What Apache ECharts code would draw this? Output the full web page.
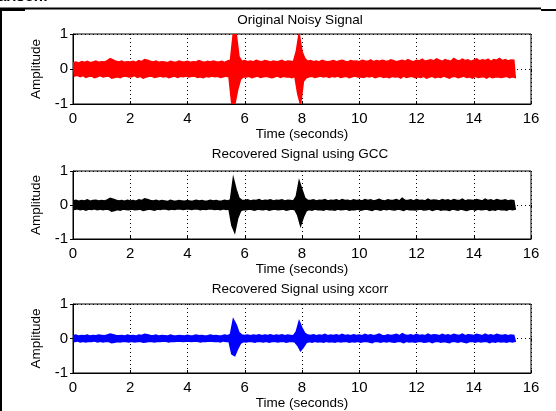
<!DOCTYPE html>
<html><head><meta charset="utf-8">
<script src="https://cdn.jsdelivr.net/npm/echarts@6/dist/echarts.min.js"></script>
<style>html,body{margin:0;padding:0;background:#fff}#c{width:556px;height:411px}</style>
</head><body><div id="c"></div><script>
const xTicks = [0, 2, 4, 6, 8, 10, 12, 14, 16];
const yTicks = [-1, 0, 1];
const titles = ['Original Noisy Signal', 'Recovered Signal using GCC', 'Recovered Signal using xcorr'];
const xLabel = 'Time (seconds)';
const yLabel = 'Amplitude';
const colors = ['#ff0000', '#000000', '#0000ff'];
const sampleStep = 0.1; // envelope read every 0.1 s, from 0 to 15.4 s

const noisyHi = [
.18,.2,.17,.21,.19,.22,.18,.2,.23,.19,
.21,.2,.24,.3,.26,.22,.2,.23,.19,.21,
.2,.22,.19,.24,.21,.27,.25,.22,.2,.23,
.19,.21,.2,.18,.22,.2,.19,.23,.21,.2,
.22,.19,.21,.2,.24,.21,.19,.22,.2,.23,
.21,.2,.22,.19,.23,.25,1.2,1.1,.35,.22,
.24,.21,.23,.2,.25,.22,.21,.24,.22,.2,
.23,.21,.22,.25,.2,.23,.22,.21,.5,1.1,
.5,.3,.22,.24,.21,.23,.2,.25,.22,.21,
.22,.24,.21,.23,.25,.22,.2,.24,.22,.23,
.21,.25,.23,.22,.26,.21,.24,.22,.25,.23,
.22,.26,.24,.21,.23,.25,.22,.27,.23,.21,
.25,.23,.28,.22,.24,.26,.23,.29,.25,.22,
.27,.24,.22,.3,.25,.23,.28,.24,.26,.22,
.25,.29,.23,.26,.24,.28,.22,.27,.25,.3,
.24,.27,.23,.26,.25];
const noisyLo = [
-.2,-.18,-.22,-.19,-.24,-.21,-.2,-.25,-.22,-.19,
-.23,-.21,-.2,-.26,-.24,-.22,-.25,-.21,-.2,-.23,
-.22,-.19,-.24,-.21,-.26,-.23,-.21,-.2,-.24,-.22,
-.2,-.23,-.21,-.25,-.22,-.2,-.24,-.21,-.22,-.2,
-.23,-.21,-.2,-.24,-.22,-.25,-.21,-.23,-.2,-.22,
-.21,-.24,-.22,-.2,-.23,-1.2,-1.2,-.6,-.3,-.22,
-.23,-.21,-.25,-.22,-.2,-.24,-.22,-.21,-.23,-.25,
-.22,-.2,-.24,-.21,-.23,-.22,-.25,-.21,-.7,-1.1,
-.35,-.25,-.22,-.21,-.24,-.22,-.2,-.23,-.21,-.24,
-.21,-.23,-.2,-.24,-.22,-.21,-.25,-.22,-.2,-.23,
-.22,-.24,-.21,-.23,-.2,-.25,-.22,-.21,-.24,-.22,
-.25,-.21,-.23,-.22,-.26,-.2,-.24,-.22,-.21,-.25,
-.22,-.24,-.21,-.26,-.23,-.21,-.25,-.22,-.24,-.2,
-.23,-.26,-.22,-.21,-.25,-.23,-.2,-.24,-.22,-.26,
-.21,-.24,-.23,-.22,-.26,-.21,-.25,-.23,-.22,-.24,
-.23,-.21,-.25,-.22,-.24];
const gccHi = [
.12,.14,.11,.13,.12,.15,.11,.13,.14,.12,
.13,.12,.15,.2,.17,.14,.12,.13,.11,.14,
.12,.13,.11,.15,.13,.18,.16,.13,.12,.14,
.11,.13,.12,.1,.14,.12,.11,.13,.12,.11,
.13,.11,.12,.14,.12,.13,.11,.12,.14,.12,
.13,.11,.12,.14,.12,.15,.78,.45,.2,.14,
.13,.15,.12,.14,.13,.16,.12,.14,.13,.15,
.12,.14,.13,.15,.12,.14,.13,.12,.25,.7,
.45,.2,.14,.13,.15,.12,.14,.13,.16,.12,
.14,.13,.15,.12,.16,.13,.14,.12,.15,.13,
.14,.12,.16,.13,.15,.12,.14,.17,.13,.12,
.15,.13,.14,.16,.12,.2,.14,.13,.15,.12,
.16,.13,.14,.12,.17,.13,.15,.14,.12,.16,
.13,.15,.12,.16,.14,.13,.17,.12,.15,.14,
.13,.16,.14,.12,.17,.13,.15,.12,.16,.14,
.13,.15,.12,.14,.13];
const gccLo = [
-.13,-.11,-.14,-.12,-.15,-.12,-.13,-.11,-.14,-.12,
-.14,-.12,-.13,-.18,-.16,-.13,-.15,-.12,-.13,-.14,
-.12,-.14,-.13,-.12,-.16,-.14,-.12,-.13,-.15,-.12,
-.13,-.11,-.12,-.14,-.12,-.13,-.11,-.12,-.13,-.12,
-.12,-.13,-.11,-.12,-.14,-.12,-.13,-.11,-.12,-.13,
-.12,-.14,-.11,-.13,-.12,-.6,-.8,-.4,-.18,-.13,
-.14,-.12,-.13,-.15,-.12,-.13,-.14,-.12,-.15,-.13,
-.12,-.14,-.13,-.12,-.15,-.13,-.12,-.14,-.3,-.6,
-.35,-.17,-.13,-.15,-.12,-.14,-.13,-.15,-.12,-.14,
-.13,-.15,-.12,-.14,-.13,-.12,-.15,-.13,-.14,-.12,
-.15,-.13,-.12,-.14,-.16,-.12,-.13,-.15,-.12,-.14,
-.12,-.14,-.15,-.12,-.13,-.16,-.12,-.14,-.13,-.15,
-.13,-.12,-.15,-.14,-.12,-.16,-.13,-.12,-.15,-.13,
-.14,-.16,-.12,-.13,-.15,-.12,-.14,-.16,-.13,-.12,
-.15,-.12,-.14,-.13,-.12,-.16,-.13,-.15,-.12,-.14,
-.13,-.15,-.12,-.14,-.12];
const xcorrHi = [
.08,.1,.07,.09,.08,.1,.07,.09,.08,.1,
.09,.08,.1,.13,.11,.09,.08,.09,.07,.1,
.08,.09,.07,.1,.09,.12,.11,.09,.08,.1,
.07,.09,.08,.07,.1,.08,.07,.09,.08,.07,
.09,.07,.08,.1,.08,.09,.07,.08,.1,.08,
.09,.07,.08,.1,.08,.12,.55,.4,.17,.1,
.09,.1,.08,.1,.09,.11,.08,.1,.09,.11,
.08,.1,.09,.11,.08,.1,.09,.08,.2,.5,
.3,.15,.1,.09,.11,.08,.1,.09,.12,.08,
.1,.09,.11,.08,.12,.09,.1,.08,.11,.09,
.1,.08,.12,.09,.11,.08,.1,.13,.09,.08,
.11,.09,.1,.12,.08,.14,.1,.09,.11,.08,
.12,.09,.1,.08,.13,.09,.11,.1,.08,.12,
.09,.11,.08,.12,.1,.09,.13,.08,.11,.1,
.09,.12,.1,.08,.13,.09,.11,.08,.12,.1,
.09,.11,.08,.1,.09];
const xcorrLo = [
-.09,-.07,-.1,-.08,-.1,-.08,-.09,-.07,-.1,-.08,
-.1,-.08,-.09,-.12,-.11,-.09,-.1,-.08,-.09,-.1,
-.08,-.1,-.09,-.08,-.11,-.1,-.08,-.09,-.1,-.08,
-.09,-.07,-.08,-.1,-.08,-.09,-.07,-.08,-.09,-.08,
-.08,-.09,-.07,-.08,-.1,-.08,-.09,-.07,-.08,-.09,
-.08,-.1,-.07,-.09,-.08,-.45,-.5,-.3,-.14,-.09,
-.1,-.08,-.09,-.11,-.08,-.09,-.1,-.08,-.11,-.09,
-.08,-.1,-.09,-.08,-.11,-.09,-.08,-.1,-.2,-.35,
-.25,-.12,-.09,-.11,-.08,-.1,-.09,-.11,-.08,-.1,
-.09,-.11,-.08,-.1,-.09,-.08,-.11,-.09,-.1,-.08,
-.11,-.09,-.08,-.1,-.12,-.08,-.09,-.11,-.08,-.1,
-.08,-.1,-.11,-.08,-.09,-.12,-.08,-.1,-.09,-.11,
-.09,-.08,-.11,-.1,-.08,-.12,-.09,-.08,-.11,-.09,
-.1,-.12,-.08,-.09,-.11,-.08,-.1,-.12,-.09,-.08,
-.11,-.08,-.1,-.09,-.08,-.12,-.09,-.11,-.08,-.1,
-.09,-.11,-.08,-.1,-.08];

const signals = [[noisyHi, noisyLo], [gccHi, gccLo], [xcorrHi, xcorrLo]];

function rows(hi, lo) {
  const r = [];
  for (let i = 0; i < hi.length; i++) {
    r.push([Math.round(i * sampleStep * 100) / 100, hi[i], lo[i]]);
  }
  return r;
}
const clampY = v => Math.max(-1.02, Math.min(1.02, v));

const FONT = '"Liberation Sans", Arial, sans-serif';
const gridPos = [
  {left: 73, top: 34, width: 458, height: 70},
  {left: 73, top: 171, width: 458, height: 68},
  {left: 73, top: 304, width: 458, height: 69}
];
const titleY = [20, 154, 289];

const chart = echarts.init(document.getElementById('c'), null, {renderer: 'canvas'});
const grid = [], xAxis = [], yAxis = [], series = [];
gridPos.forEach(g => {
  grid.push(Object.assign({show: true, borderColor: '#000', borderWidth: 1, backgroundColor: '#fff'}, g));
});
for (let k = 0; k < 3; k++) {
  xAxis.push({
    type: 'value', gridIndex: k, min: xTicks[0], max: xTicks[xTicks.length - 1], interval: 2,
    position: 'bottom',
    axisLine: {show: true, onZero: false, lineStyle: {color: '#000', width: 1}},
    axisTick: {show: true, inside: true, length: 3, lineStyle: {color: '#000'}},
    axisLabel: {color: '#000', fontSize: 15, fontFamily: FONT, margin: 7},
    splitLine: {show: true, lineStyle: {color: '#000', type: [1, 3], width: 1}},
    name: xLabel, nameLocation: 'middle', nameGap: 22,
    nameTextStyle: {color: '#000', fontSize: 13.5, fontFamily: FONT}
  });
  yAxis.push({
    type: 'value', gridIndex: k, min: yTicks[0], max: yTicks[yTicks.length - 1], interval: 1,
    position: 'left',
    axisLine: {show: true, onZero: false, lineStyle: {color: '#000', width: 1}},
    axisTick: {show: true, inside: true, length: 3, lineStyle: {color: '#000'}},
    axisLabel: {color: '#000', fontSize: 15, fontFamily: FONT, margin: 5},
    splitLine: {show: true, lineStyle: {color: '#000', type: [1, 3], width: 1}},
    name: yLabel, nameLocation: 'middle', nameGap: 15, nameRotate: 90,
    nameTextStyle: {color: '#000', fontSize: 13.5, fontFamily: FONT}
  });
}
for (let k = 0; k < 3; k++) {
  xAxis.push({
    type: 'value', gridIndex: k, min: 0, max: 16, interval: 2, position: 'top',
    axisLine: {show: false}, axisLabel: {show: false}, splitLine: {show: false},
    axisTick: {show: true, inside: true, length: 3, lineStyle: {color: '#000'}}
  });
  yAxis.push({
    type: 'value', gridIndex: k, min: -1, max: 1, interval: 1, position: 'right',
    axisLine: {show: false}, axisLabel: {show: false}, splitLine: {show: false},
    axisTick: {show: true, inside: true, length: 3, lineStyle: {color: '#000'}}
  });
}
signals.forEach((s, k) => {
  const data = rows(s[0], s[1]);
  series.push({
    type: 'custom', xAxisIndex: k, yAxisIndex: k, coordinateSystem: 'cartesian2d',
    data: data, encode: {x: 0, y: [1, 2]}, clip: true, silent: true, animation: false, z: 3,
    renderItem: function (params, api) {
      if (params.dataIndex !== 0) return null;
      const pts = [];
      for (let i = 0; i < data.length; i++) pts.push(api.coord([data[i][0], clampY(data[i][1])]));
      for (let i = data.length - 1; i >= 0; i--) pts.push(api.coord([data[i][0] + sampleStep / 2, clampY(data[i][2])]));
      return {type: 'polygon', shape: {points: pts},
        style: {fill: colors[k], stroke: colors[k], lineWidth: 1.5}};
    }
  });
});

const graphic = [
  {type: 'line', shape: {x1: 0, y1: 8.5, x2: 541, y2: 8.5}, style: {stroke: '#000', lineWidth: 2}},
  {type: 'line', shape: {x1: 541, y1: 10, x2: 556, y2: 10}, style: {stroke: '#000', lineWidth: 2}},
  {type: 'line', shape: {x1: 0, y1: 10, x2: 25, y2: 10}, style: {stroke: '#000', lineWidth: 2}},
  {type: 'line', shape: {x1: 1, y1: 8, x2: 1, y2: 411}, style: {stroke: '#000', lineWidth: 2}},
  {type: 'text', x: -2, y: 4.5, style: {text: 'arison:', fill: '#000', font: 'bold 15px ' + FONT, textVerticalAlign: 'bottom'}}
];
titles.forEach((t, k) => {
  graphic.push({type: 'text', x: 300, y: titleY[k], z: 10,
    style: {text: t, fill: '#000', font: '13.5px ' + FONT, textAlign: 'center', textVerticalAlign: 'middle'}});
});

chart.setOption({animation: false, backgroundColor: '#fff', grid, xAxis, yAxis, series, graphic});
</script></body></html>
